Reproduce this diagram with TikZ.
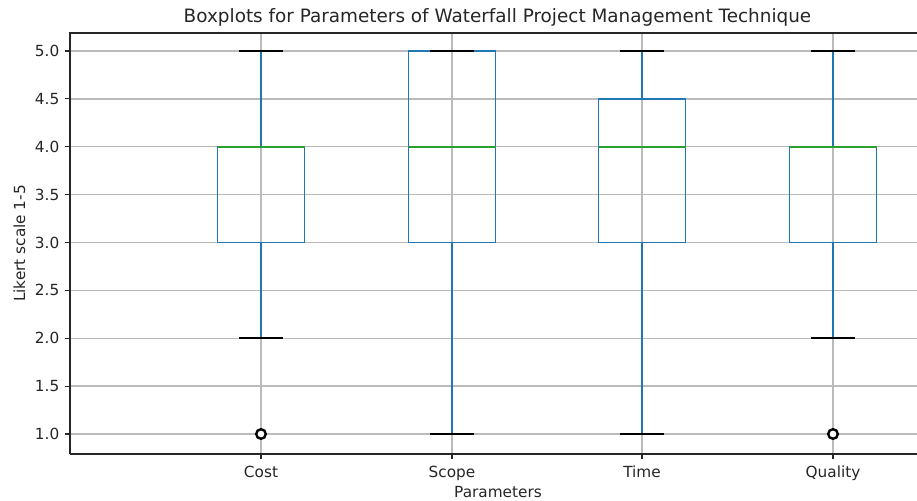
\documentclass[tikz,border=0pt]{standalone}
\usepackage{fontspec}
\setmainfont{DejaVu Sans}
\definecolor{mplblue}{HTML}{1F77B4}
\definecolor{mplgreen}{HTML}{2CA02C}
\definecolor{gridgray}{HTML}{BBBBBB}
\definecolor{spinegray}{HTML}{262626}
\begin{document}
\begin{tikzpicture}[x=1pt,y=-1pt,
  gridline/.style={draw=gridgray,line width=1.3pt},
  spine/.style={draw=spinegray,line width=1.4pt},
  tickmark/.style={draw=spinegray,line width=1.2pt},
  boxline/.style={draw=mplblue,line width=1.8pt},
  medline/.style={draw=mplgreen,line width=1.8pt},
  capline/.style={draw=black,line width=1.8pt},
  outlier/.style={draw=black,line width=2.4pt,fill=white,circle,minimum size=9.6pt,inner sep=0pt},
  ticklab/.style={font=\fontsize{15.3}{18}\selectfont,text=spinegray,inner sep=0pt},
  axlab/.style={font=\fontsize{15.3}{18}\selectfont,text=spinegray,inner sep=0pt},
  titlelab/.style={font=\fontsize{18.4}{21}\selectfont,text=spinegray,inner sep=0pt}]
\useasboundingbox (0,0) rectangle (917,500);
\fill[white] (0,0) rectangle (917,500);
% horizontal grid
\foreach \yy in {51,98.875,146.75,194.625,242.5,290.375,338.25,386.125,434}
  \draw[gridline] (70,\yy) -- (917,\yy);
% vertical grid
\foreach \xx in {261,452,642,833}
  \draw[gridline] (\xx,33) -- (\xx,454);
% spines
\draw[spine] (70,454) -- (70,33) -- (917,33);
\draw[spine] (70,454) -- (917,454);
% y ticks and labels
\foreach \yy/\lab in {51/5.0,98.875/4.5,146.75/4.0,194.625/3.5,242.5/3.0,290.375/2.5,338.25/2.0,386.125/1.5,434/1.0}{
  \draw[tickmark] (70,\yy) -- (64.75,\yy);
  \node[ticklab,anchor=east] (yl\lab) at (59.5,\yy) {\lab};
}
% x ticks and labels
\foreach \xx/\lab in {261/Cost,452/Scope,642/Time,833/Quality}{
  \draw[tickmark] (\xx,454) -- (\xx,459.25);
  \node[ticklab,anchor=base] (xl\lab) at (\xx,477) {\lab};
}
% axis labels and title
\node[axlab,anchor=base,rotate=90] (ylab) at (25,243.5) {Likert scale 1-5};
\node[axlab,anchor=base] (xlab) at (498,497) {Parameters};
\node[titlelab,anchor=base] (title) at (497.5,23) {Boxplots for Parameters of Waterfall Project Management Technique};
% boxplots: x, whisker low, q1, median, q3, whisker high
\foreach \xx/\wl/\qa/\md/\qc/\wh in {261/338.25/242.5/146.75/146.75/51,
                                     452/434/242.5/146.75/51/51,
                                     642/434/242.5/146.75/98.875/51,
                                     833/338.25/242.5/146.75/146.75/51}{
  \draw[boxline] (\xx,\wl) -- (\xx,\qa);
  \draw[boxline] (\xx,\qc) -- (\xx,\wh);
  \draw[boxline] (\xx-43.5,\qa) rectangle (\xx+43.5,\qc);
  \draw[medline] (\xx-43.5,\md) -- (\xx+43.5,\md);
  \draw[capline] (\xx-22,\wl) -- (\xx+22,\wl);
  \draw[capline] (\xx-22,\wh) -- (\xx+22,\wh);
}
% outliers
\node[outlier] (outcost) at (261,434) {};
\node[outlier] (outquality) at (833,434) {};
\end{tikzpicture}
\end{document}
